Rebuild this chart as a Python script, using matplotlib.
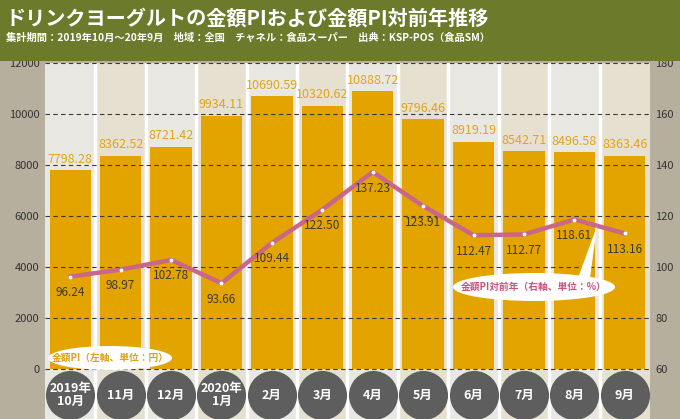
import numpy as np
import matplotlib.pyplot as plt
from matplotlib.patches import Rectangle, Polygon, Ellipse

plt.rcParams['font.family'] = ['Liberation Sans Narrow', 'Noto Sans CJK JP', 'DejaVu Sans']

# data
months = ['2019年\n10月', '11月', '12月', '2020年\n1月', '2月', '3月',
          '4月', '5月', '6月', '7月', '8月', '9月']
pi_yen = [7798.28, 8362.52, 8721.42, 9934.11, 10690.59, 10320.62,
          10888.72, 9796.46, 8919.19, 8542.71, 8496.58, 8363.46]
pi_yoy = [96.24, 98.97, 102.78, 93.66, 109.44, 122.50,
          137.23, 123.91, 112.47, 112.77, 118.61, 113.16]
left_ticks = [0, 2000, 4000, 6000, 8000, 10000, 12000]
right_ticks = [60, 80, 100, 120, 140, 160, 180]

title = 'ドリンクヨーグルトの金額PIおよび金額PI対前年推移'
subtitle = '集計期間：2019年10月～20年9月　地域：全国　チャネル：食品スーパー　出典：KSP-POS（食品SM）'

W, H = 680, 419
fig = plt.figure(figsize=(6.8, 4.19), dpi=100, facecolor='#b6af9e')
cjk = ['Noto Sans CJK JP', 'DejaVu Sans']

# title band
fig.patches.append(Rectangle((0, 1 - 61 / H), 1, 61 / H, transform=fig.transFigure,
                             fc='#6c7a2c', ec='none', zorder=0))
fig.text(6 / W, 1 - 18 / H, title, color='white', fontsize=14.5, fontweight='bold',
         va='center', ha='left', family=cjk)
fig.text(6 / W, 1 - 38 / H, subtitle, color='white', fontsize=7.4, fontweight='bold',
         va='center', ha='left', family=cjk)

# plot axes: top at y=63px, zero at 369px, bottom at figure bottom
top_px, zero_px = 63, 369
x0, x1 = 45, 650
ax = fig.add_axes([x0 / W, 0, (x1 - x0) / W, (H - top_px) / H])
scale = 12000 / (zero_px - top_px)
ymin = -(H - zero_px) * scale
ax.set_ylim(ymin, 12000)
n = len(months)
ax.set_xlim(-0.5, n - 0.5)
ax.set_facecolor('#e9e7e2')
for s in ax.spines.values():
    s.set_visible(False)

x = np.arange(n)
for i in x:
    ax.axvspan(i - 0.5, i + 0.5, color='#e9e7e2' if i % 2 == 0 else '#e6e0d0', zorder=0, lw=0)
for i in x[:-1]:
    ax.axvline(i + 0.5, color='white', lw=2.5, zorder=0.5)

ax.bar(x, pi_yen, width=0.82, color='#e3a400', zorder=1)
for xi, v in zip(x, pi_yen):
    ax.annotate(f'{v:.2f}', (xi, v), xytext=(0, 8), textcoords='offset points',
                ha='center', va='center', fontsize=9, color='#e0a61a', zorder=5)

for t in left_ticks:
    ax.axhline(t, color='#3a3a3a', lw=0.8, ls=(0, (4, 3)), zorder=2)

ax.set_yticks(left_ticks)
ax.set_yticklabels([str(t) for t in left_ticks], fontsize=8, color='#333333')
ax.tick_params(axis='y', length=0, pad=4)
ax.set_xticks([])

ax2 = ax.twinx()
ax2.set_ylim(60 + ymin / 100, 180)
for s in ax2.spines.values():
    s.set_visible(False)
ax2.set_yticks(right_ticks)
ax2.set_yticklabels([str(t) for t in right_ticks], fontsize=8, color='#333333')
ax2.tick_params(axis='y', length=0, pad=4)
ax2.plot(x, pi_yoy, color='#c9668a', lw=3.2, zorder=3, solid_capstyle='round')
ax2.plot(x, pi_yoy, 'o', color='white', ms=1.8, zorder=4)
for xi, v in zip(x, pi_yoy):
    ax2.annotate(f'{v:.2f}', (xi, v), xytext=(0, -11.5), textcoords='offset points',
                 ha='center', va='center', fontsize=8.5, color='#3a3a3a', zorder=5)

# month circles
circ_y = -(395 - zero_px) * scale
ax.scatter(x, [circ_y] * n, s=1250, color='#5e5e5e', zorder=3, clip_on=False, lw=0)
for xi, m in zip(x, months):
    ax.text(xi, circ_y, m, ha='center', va='center', color='white', fontsize=9,
            fontweight='bold', linespacing=0.95, zorder=4, family=cjk)

# callouts
fig.patches.append(Ellipse((110 / W, 1 - 358 / H), 124 / W, 24 / H,
                           transform=fig.transFigure, fc='white', ec='none', zorder=9))
fig.text(110 / W, 1 - 358 / H, '金額PI（左軸、単位：円）', ha='center', va='center',
         fontsize=7, color='#d9a21a', fontweight='bold', family=cjk, zorder=10)
fig.patches.append(Polygon([(578 / W, 1 - 278 / H), (590 / W, 1 - 278 / H), (597 / W, 1 - 226 / H)],
                           closed=True, transform=fig.transFigure, fc='white', ec='none', zorder=9))
fig.patches.append(Ellipse((534 / W, 1 - 287 / H), 162 / W, 28 / H,
                           transform=fig.transFigure, fc='white', ec='none', zorder=9))
fig.text(534 / W, 1 - 287 / H, '金額PI対前年（右軸、単位：%）', ha='center', va='center',
         fontsize=7, color='#c9557e', fontweight='bold', family=cjk, zorder=10)

fig.savefig('out.png', dpi=100, facecolor=fig.get_facecolor())
